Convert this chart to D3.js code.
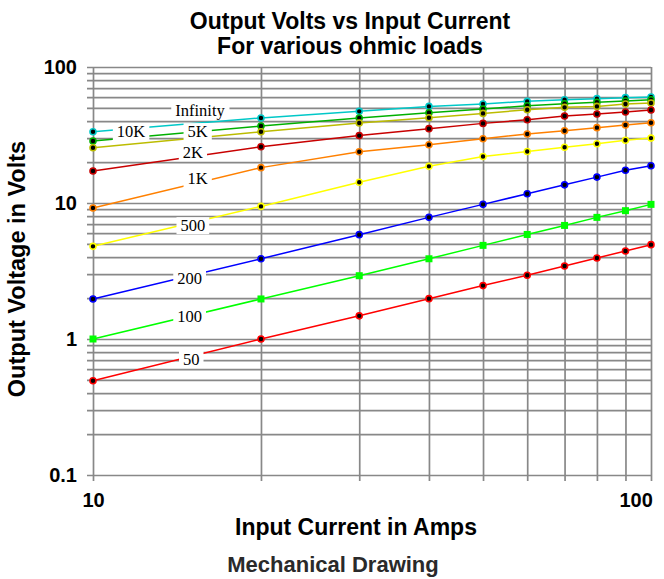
<!DOCTYPE html>
<html>
<head>
<meta charset="utf-8">
<script src="https://cdn.jsdelivr.net/npm/d3@7"></script>
<style>
  html, body { margin: 0; padding: 0; background: #fff; }
  svg { display: block; }
</style>
</head>
<body>
<svg id="chart" width="664" height="579"></svg>
<script>
// ---------------- data ----------------
const current = [10, 20, 30, 40, 50, 60, 70, 80, 90, 100];
const seriesNames = ["Infinity", "10K", "5K", "2K", "1K", "500", "200", "100", "50"];
const vInf  = [33.4, 42.2, 47.2, 51.3, 53.5, 55.9, 57.5, 58.5, 59.5, 60.2];
const v10k  = [28.6, 36.8, 42.2, 46.1, 49.1, 51.9, 53.7, 55.0, 56.3, 57.5];
const v5k   = [25.5, 33.4, 38.7, 42.4, 45.6, 48.5, 50.5, 51.3, 53.5, 54.4];
const v2k   = [17.2, 25.9, 31.3, 35.2, 38.5, 40.9, 43.6, 45.1, 46.7, 48.3];
const v1k   = [9.19, 18.2, 23.8, 26.8, 29.7, 32.2, 34.0, 35.8, 37.5, 38.9];
const v500  = [4.80, 9.44, 14.2, 18.6, 22.0, 23.9, 25.7, 27.3, 28.9, 30.0];
const v200  = [1.97, 3.89, 5.85, 7.84, 9.77, 11.7, 13.6, 15.5, 17.4, 18.8];
const v100  = [1.0, 1.97, 2.92, 3.89, 4.88, 5.87, 6.84, 7.84, 8.78, 9.77];
const v50   = [0.493, 1.0, 1.48, 1.98, 2.47, 2.94, 3.44, 3.94, 4.44, 4.94];
const seriesValues = [vInf, v10k, v5k, v2k, v1k, v500, v200, v100, v50];
const seriesColors = ["#00c8c8", "#00b000", "#bcbc00", "#c80000", "#ff8000", "#ffff00", "#0000ff", "#00ff00", "#ff0000"];
const seriesMarker = ["circle", "circle", "circle", "circle", "circle", "circle", "circle", "square", "circle"];

// in-chart label anchors (data units)
const labelText  = ["Infinity", "10K", "5K", "2K", "1K", "500", "200", "100", "50"];
const labelAmps  = [15.55, 11.7, 15.4, 15.1, 15.4, 15.1, 14.9, 14.9, 15.0];
const labelVolts = [48.5, 33.5, 33.5, 23.8, 15.1, 6.81, 2.78, 1.46, 0.716];

// ticks
const xGrid = [10, 20, 30, 40, 50, 60, 70, 80, 90, 100];
const xLabels = [10, 100];
const yGrid = [0.1, 0.2, 0.3, 0.4, 0.5, 0.6, 0.7, 0.8, 0.9,
               1, 2, 3, 4, 5, 6, 7, 8, 9,
               10, 20, 30, 40, 50, 60, 70, 80, 90, 100];
const yLabels = [0.1, 1, 10, 100];

// ---------------- layout ----------------
const svg = d3.select("#chart");
const pLeft = 93, pRight = 651, pTop = 67, pBottom = 475;
const x = d3.scaleLog().domain([10, 100]).range([pLeft, pRight]);
const y = d3.scaleLog().domain([0.1, 100]).range([pBottom, pTop]);
const gridColor = "#888888";
const sans = "Arial, 'Liberation Sans', Helvetica, sans-serif";

// vertical grid + x tick labels
const gx = svg.append("g")
  .attr("transform", `translate(0,${pTop})`)
  .call(d3.axisBottom(x)
    .tickValues(xGrid)
    .tickSize(pBottom - pTop + 6)
    .tickPadding(12)
    .tickFormat(d => xLabels.includes(d) ? d3.format("d")(d) : ""));
gx.select(".domain").remove();
gx.selectAll(".tick line").attr("stroke", gridColor).attr("stroke-width", 1.7);
gx.selectAll(".tick text")
  .attr("font-family", sans).attr("font-weight", "bold").attr("font-size", 20).attr("fill", "#000")
  .attr("x", d => d === 100 ? -14 : 0)
  .attr("text-anchor", d => d === 100 ? "start" : "middle")
  .attr("dx", d => d === 100 ? -18 : 0);

// horizontal grid + y tick labels
const gy = svg.append("g")
  .attr("transform", `translate(${pLeft - 6},0)`)
  .call(d3.axisLeft(y)
    .tickValues(yGrid)
    .tickSize(-(pRight - pLeft + 6))
    .tickPadding(10)
    .tickFormat(d => yLabels.includes(d) ? String(d) : ""));
gy.select(".domain").remove();
gy.selectAll(".tick line").attr("stroke", gridColor).attr("stroke-width", 1.7);
gy.selectAll(".tick text")
  .attr("font-family", sans).attr("font-weight", "bold").attr("font-size", 20).attr("fill", "#000");

// series lines
const line = d3.line().x(d => x(d[0])).y(d => y(d[1]));
const gs = svg.append("g");
seriesValues.forEach((vals, i) => {
  const pts = current.map((c, j) => [c, vals[j]]);
  gs.append("path")
    .attr("d", line(pts))
    .attr("fill", "none")
    .attr("stroke", seriesColors[i])
    .attr("stroke-width", 1.5);
});
// markers
seriesValues.forEach((vals, i) => {
  const pts = current.map((c, j) => [c, vals[j]]);
  if (seriesMarker[i] === "square") {
    gs.selectAll(null).data(pts).enter().append("rect")
      .attr("x", d => x(d[0]) - 3.5).attr("y", d => y(d[1]) - 3.5)
      .attr("width", 7).attr("height", 7)
      .attr("fill", seriesColors[i]);
  } else {
    gs.selectAll(null).data(pts).enter().append("circle")
      .attr("cx", d => x(d[0])).attr("cy", d => y(d[1]))
      .attr("r", 3)
      .attr("fill", "#000")
      .attr("stroke", seriesColors[i])
      .attr("stroke-width", 1.6);
  }
});

// in-chart labels with white boxes
const gl = svg.append("g");
labelText.forEach((t, i) => {
  const cx = x(labelAmps[i]), cy = y(labelVolts[i]);
  const g = gl.append("g");
  const txt = g.append("text")
    .attr("x", cx).attr("y", cy).attr("dy", "0.35em")
    .attr("text-anchor", "middle")
    .attr("font-family", "'Liberation Serif', 'Times New Roman', serif")
    .attr("font-size", 16.5)
    .attr("fill", "#000")
    .text(t);
  const bb = txt.node().getBBox();
  g.insert("rect", "text")
    .attr("x", bb.x - 4).attr("y", cy - 8.5)
    .attr("width", bb.width + 8).attr("height", 17)
    .attr("fill", "#fff");
});

// titles
svg.append("text").attr("x", 350).attr("y", 29).attr("text-anchor", "middle")
  .attr("font-family", sans).attr("font-weight", "bold").attr("font-size", 23)
  .text("Output Volts vs Input Current");
svg.append("text").attr("x", 350).attr("y", 54).attr("text-anchor", "middle")
  .attr("font-family", sans).attr("font-weight", "bold").attr("font-size", 23)
  .text("For various ohmic loads");

// axis titles
svg.append("text").attr("x", 356).attr("y", 535).attr("text-anchor", "middle")
  .attr("font-family", sans).attr("font-weight", "bold").attr("font-size", 23)
  .text("Input Current in Amps");
svg.append("text")
  .attr("transform", "translate(25,269) rotate(-90)")
  .attr("text-anchor", "middle")
  .attr("font-family", sans).attr("font-weight", "bold").attr("font-size", 23.5)
  .text("Output Voltage in Volts");

// footer
svg.append("text").attr("x", 333).attr("y", 572).attr("text-anchor", "middle")
  .attr("font-family", sans).attr("font-weight", "bold").attr("font-size", 22)
  .attr("fill", "#2a2a2a")
  .text("Mechanical Drawing");
</script>
</body>
</html>
